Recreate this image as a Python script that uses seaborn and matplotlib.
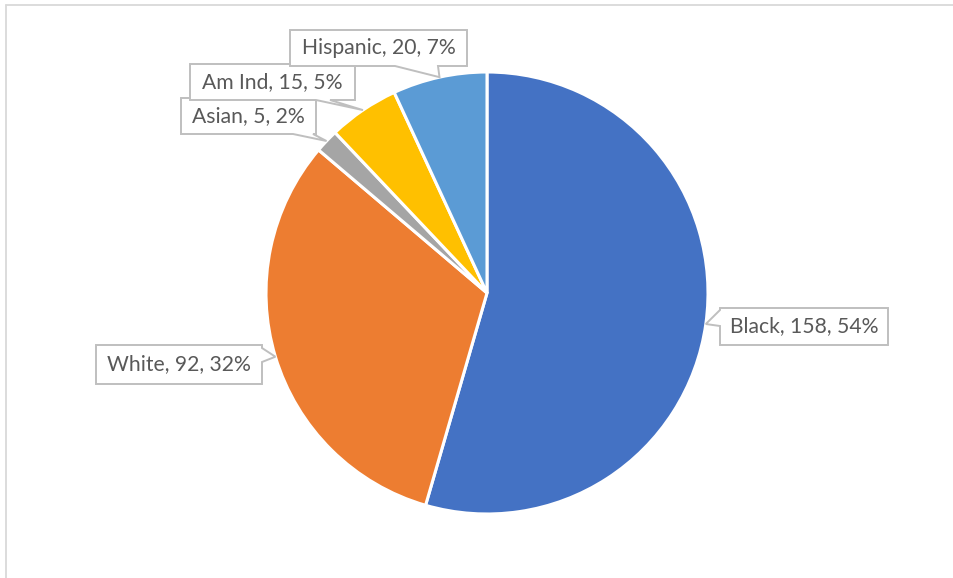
import numpy as np
import matplotlib
matplotlib.use("Agg")
import matplotlib.pyplot as plt
from matplotlib.patches import Polygon
import seaborn as sns

# ---- data ----
categories = ["Black", "White", "Asian", "Am Ind", "Hispanic"]
values = [158, 92, 5, 15, 20]
colors = ["#4472C4", "#ED7D31", "#A5A5A5", "#FFC000", "#5B9BD5"]

# ---- layout (pixel coordinates, y down) ----
W, H = 954, 578
CX, CY, R = 487, 293, 221
# label boxes: x0, y0, x1, y1
boxes = {
    "Black": (720, 308, 888, 345),
    "White": (96, 345, 262, 384),
    "Asian": (181, 98, 316, 134),
    "Am Ind": (190, 64, 355, 100),
    "Hispanic": (290, 30, 467, 66),
}
# pointer base on box edge: (edge, a, b)
pointer_base = {
    "Black": ("left", 310, 326),
    "White": ("right", 348, 362),
    "Asian": ("bottom", 293, 313),
    "Am Ind": ("bottom", 316, 330),
    "Hispanic": ("bottom", 395, 438),
}

sns.set_style("white")
plt.rcParams["font.family"] = ["Lato", "DejaVu Sans"]

fig = plt.figure(figsize=(W / 100, H / 100), dpi=100)
ax = fig.add_axes([0, 0, 1, 1])

pal = sns.color_palette(colors)
wedges, _ = ax.pie(values, colors=pal, startangle=90, counterclock=False,
                   radius=R, center=(CX, H - CY),
                   wedgeprops=dict(edgecolor="white", linewidth=2.2))
ax.set_xlim(0, W)
ax.set_ylim(0, H)
ax.set_aspect("auto")
ax.axis("off")

# chart border (top and left)
ax.plot([6, W], [H - 5, H - 5], color="#D9D9D9", lw=1.3, clip_on=False)
ax.plot([6, 6], [H - 5, 0], color="#D9D9D9", lw=1.3, clip_on=False)

total = sum(values)
for w, cat, val in zip(wedges, categories, values):
    mid = np.deg2rad((w.theta1 + w.theta2) / 2)
    tx = CX + R * np.cos(mid)
    ty = CY - R * np.sin(mid)
    x0, y0, x1, y1 = boxes[cat]
    edge, a, b = pointer_base[cat]
    if edge == "bottom":
        pts = [(x0, y0), (x1, y0), (x1, y1), (b, y1), (tx, ty), (a, y1), (x0, y1)]
    elif edge == "left":
        pts = [(x0, y0), (x1, y0), (x1, y1), (x0, y1), (x0, b), (tx, ty), (x0, a)]
    else:  # right
        pts = [(x0, y0), (x1, y0), (x1, a), (tx, ty), (x1, b), (x1, y1), (x0, y1)]
    pts = [(px, H - py) for px, py in pts]
    ax.add_patch(Polygon(pts, closed=True, facecolor="white",
                         edgecolor="#BFBFBF", lw=1.4, zorder=5))
    pct = round(val / total * 100)
    ax.text((x0 + x1) / 2, H - (y0 + y1) / 2, f"{cat}, {val}, {pct}%",
            ha="center", va="center", fontsize=15.2, color="#595959", zorder=6)

fig.savefig("out.png", dpi=100)
